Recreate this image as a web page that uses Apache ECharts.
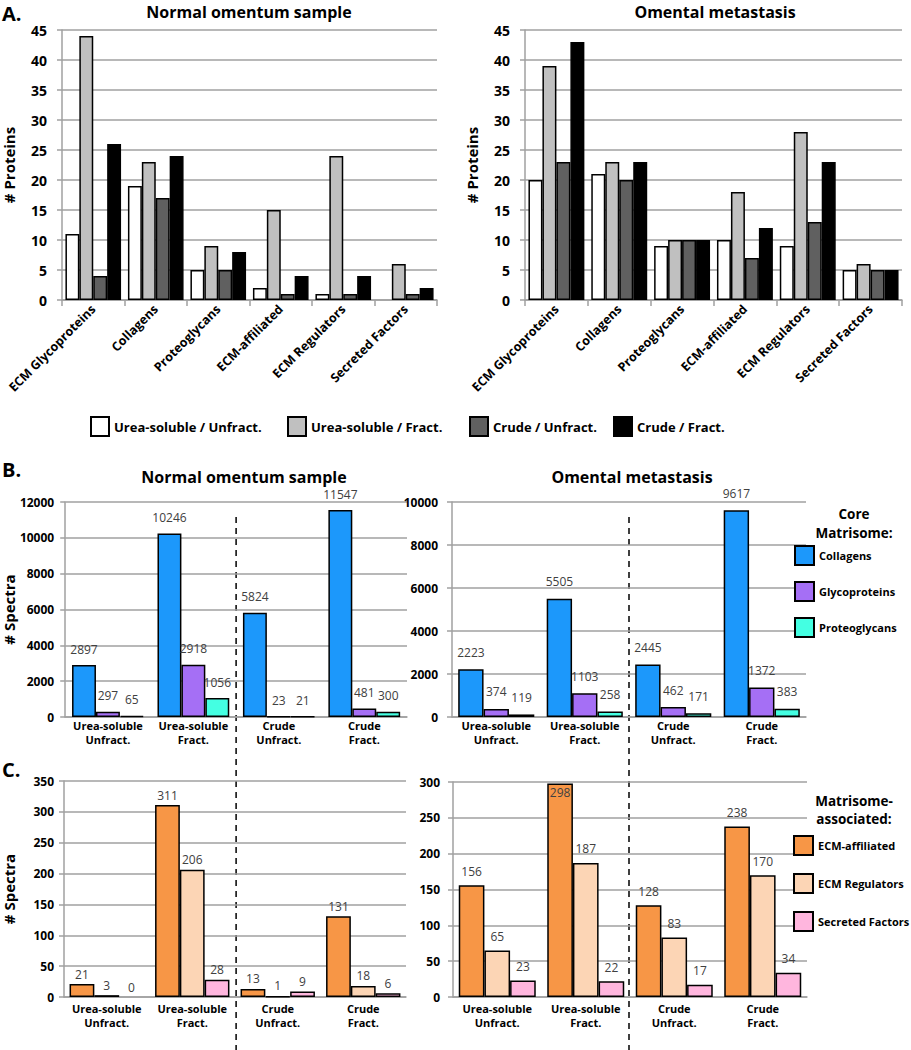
<!DOCTYPE html>
<html><head><meta charset="utf-8">
<script src="https://cdn.jsdelivr.net/npm/echarts@6/dist/echarts.min.js"></script>
<style>html,body{margin:0;padding:0;background:#fff}#c{width:911px;height:1050px}</style>
</head><body><div id="c"></div>
<script>
// ---------- DATA ----------
const categoriesA = ['ECM Glycoproteins', 'Collagens', 'Proteoglycans', 'ECM-affiliated', 'ECM Regulators', 'Secreted Factors'];
const seriesNamesA = ['Urea-soluble / Unfract.', 'Urea-soluble / Fract.', 'Crude / Unfract.', 'Crude / Fract.'];
// Panel A - Normal omentum sample (# proteins)
const normalUreaUnfract = [11, 19, 5, 2, 1, 0];
const normalUreaFract   = [44, 23, 9, 15, 24, 6];
const normalCrudeUnfract = [4, 17, 5, 1, 1, 1];
const normalCrudeFract  = [26, 24, 8, 4, 4, 2];
// Panel A - Omental metastasis (# proteins)
const metUreaUnfract = [20, 21, 9, 10, 9, 5];
const metUreaFract   = [39, 23, 10, 18, 28, 6];
const metCrudeUnfract = [23, 20, 10, 7, 13, 5];
const metCrudeFract  = [43, 23, 10, 12, 23, 5];

const categoriesBC = ['Urea-soluble\nUnfract.', 'Urea-soluble\nFract.', 'Crude\nUnfract.', 'Crude\nFract.'];
// Panel B - core matrisome (# spectra)
const normalCollagens = [2897, 10246, 5824, 11547];
const normalGlycoproteins = [297, 2918, 23, 481];
const normalProteoglycans = [65, 1056, 21, 300];
const metCollagens = [2223, 5505, 2445, 9617];
const metGlycoproteins = [374, 1103, 462, 1372];
const metProteoglycans = [119, 258, 171, 383];
// Panel C - matrisome-associated (# spectra)
const normalAffiliated = [21, 311, 13, 131];
const normalRegulators = [3, 206, 1, 18];
const normalSecreted = [0, 28, 9, 6];
const metAffiliated = [156, 298, 128, 238];
const metRegulators = [65, 187, 83, 170];
const metSecreted = [23, 22, 17, 34];

const ticksA = {min: 0, max: 45, interval: 5};
const ticksBLeft = {min: 0, max: 12000, interval: 2000};
const ticksBRight = {min: 0, max: 10000, interval: 2000};
const ticksCLeft = {min: 0, max: 350, interval: 50};
const ticksCRight = {min: 0, max: 300, interval: 50};

// ---------- STYLE ----------
const FONT = '"Open Sans", "Noto Sans", sans-serif';
const GRID_COLOR = '#a0a0a0';
const chart = echarts.init(document.getElementById('c'), null, {renderer: 'svg'});

const grids = [
  {left: 60, top: 30, width: 377, height: 270},
  {left: 525, top: 30, width: 377, height: 270},
  {left: 60, top: 502, width: 347, height: 215},
  {left: 452, top: 502, width: 354, height: 215},
  {left: 59, top: 781, width: 347, height: 216},
  {left: 453, top: 782, width: 354, height: 215}
];

function xAxisA(i) {
  return {
    type: 'category', gridIndex: i, data: categoriesA,
    axisLine: {lineStyle: {color: GRID_COLOR, width: 1.5}},
    axisTick: {show: true, length: 6, lineStyle: {color: GRID_COLOR, width: 1.5}},
    axisLabel: {rotate: 45, interval: 0, fontWeight: 'bold', fontSize: 12.5, color: '#000', margin: 7, fontFamily: FONT}
  };
}
function xAxisBC(i, margin) {
  return {
    type: 'category', gridIndex: i, data: categoriesBC,
    axisLine: {lineStyle: {color: GRID_COLOR, width: 1.5}},
    axisTick: {show: false},
    axisLabel: {interval: 0, fontWeight: 'bold', fontSize: 11, color: '#000', margin: margin, lineHeight: 14, fontFamily: FONT}
  };
}
function yAxis(i, ticks, fontSize, margin, name, nameGap) {
  return Object.assign({
    type: 'value', gridIndex: i,
    axisLine: {show: true, lineStyle: {color: GRID_COLOR, width: 1.5}},
    axisTick: {show: true, length: 5, lineStyle: {color: GRID_COLOR, width: 1.5}},
    splitLine: {lineStyle: {color: GRID_COLOR, width: 1.5}},
    axisLabel: {fontWeight: 'bold', fontSize: fontSize, color: '#000', margin: margin, fontFamily: FONT,
      formatter: v => String(v)},
    name: name || '', nameLocation: 'middle', nameRotate: 90, nameGap: nameGap || 0,
    nameTextStyle: {fontWeight: 'bold', fontSize: 15, color: '#000', fontFamily: FONT}
  }, ticks);
}

function bar(name, values, idx, color, gap, labelDist, special) {
  return {
    type: 'bar', name: name, xAxisIndex: idx, yAxisIndex: idx,
    data: values.map((v, k) => {
      const item = {value: v};
      if (v === 0) item.itemStyle = {borderWidth: 0};
      if (special && special.indexOf(k) >= 0) item.label = {position: 'insideTop', distance: 3};
      return item;
    }),
    itemStyle: {color: color, borderColor: '#000', borderWidth: 1.5},
    barGap: '0%', barCategoryGap: gap,
    label: labelDist == null ? {show: false} : {
      show: true, position: 'top', distance: labelDist, fontSize: 12, color: '#404040', fontFamily: FONT
    },
    emphasis: {disabled: true}
  };
}

const colorsA = ['#ffffff', '#c0c0c0', '#606060', '#000000'];
const colorsB = ['#1c98fb', '#a56ff5', '#44ffe2'];
const colorsC = ['#f79646', '#fcd5b5', '#ffb6de'];
const namesB = ['Collagens', 'Glycoproteins', 'Proteoglycans'];
const namesC = ['ECM-affiliated', 'ECM Regulators', 'Secreted Factors'];

const series = [];
[normalUreaUnfract, normalUreaFract, normalCrudeUnfract, normalCrudeFract].forEach((d, k) => series.push(bar(seriesNamesA[k], d, 0, colorsA[k], '11%')));
[metUreaUnfract, metUreaFract, metCrudeUnfract, metCrudeFract].forEach((d, k) => series.push(bar(seriesNamesA[k], d, 1, colorsA[k], '11%')));
[normalCollagens, normalGlycoproteins, normalProteoglycans].forEach((d, k) => series.push(bar(namesB[k], d, 2, colorsB[k], '16%', 10)));
[metCollagens, metGlycoproteins, metProteoglycans].forEach((d, k) => series.push(bar(namesB[k], d, 3, colorsB[k], '14%', 11)));
[normalAffiliated, normalRegulators, normalSecreted].forEach((d, k) => series.push(bar(namesC[k], d, 4, colorsC[k], '13%', 4)));
[metAffiliated, metRegulators, metSecreted].forEach((d, k) => series.push(bar(namesC[k], d, 5, colorsC[k], '13%', 8, k === 0 ? [1] : null)));

const legendText = {fontWeight: 'bold', fontSize: 13, color: '#000', fontFamily: FONT};
const legendALefts = [90, 287, 469, 613];
const legends = seriesNamesA.map((n, k) => ({
  data: [n], left: legendALefts[k], top: 416, itemWidth: 18, itemHeight: 19, padding: 0,
  textStyle: legendText, selectedMode: false, icon: 'rect'
}));
const sideLegendText = {fontWeight: 'bold', fontSize: 11, color: '#000', fontFamily: FONT};
legends.push({
  data: namesB, orient: 'vertical', left: 794, top: 545, itemWidth: 19, itemHeight: 19, itemGap: 15, padding: 0,
  textStyle: sideLegendText, selectedMode: false, icon: 'rect'
});
legends.push({
  data: namesC, orient: 'vertical', left: 793, top: 835, itemWidth: 19, itemHeight: 19, itemGap: 17, padding: 0,
  textStyle: sideLegendText, selectedMode: false, icon: 'rect'
});

function txt(text, x, y, size, align) {
  return {type: 'text', x: x, y: y, silent: true, style: {
    text: text, fill: '#000', font: 'bold ' + size + 'px ' + FONT,
    textAlign: align || 'center', textVerticalAlign: 'middle'
  }};
}
const texts = [
  txt('A.', 2, 13, 20, 'left'),
  txt('Normal omentum sample', 249, 12, 16),
  txt('Omental metastasis', 715, 12, 16),
  txt('B.', 2, 469, 20, 'left'),
  txt('Normal omentum sample', 244, 477, 16),
  txt('Omental metastasis', 632, 477, 16),
  txt('Core', 854, 514, 13.5),
  txt('Matrisome:', 854, 533, 13.5),
  txt('C.', 2, 769, 20, 'left'),
  txt('Matrisome-', 854, 801, 13.5),
  txt('associated:', 854, 819, 13.5)
];

chart.setOption({
  animation: false,
  grid: grids,
  xAxis: [xAxisA(0), xAxisA(1), xAxisBC(2, 1), xAxisBC(3, 1), xAxisBC(4, 4), xAxisBC(5, 4)],
  yAxis: [
    yAxis(0, ticksA, 14, 15, '# Proteins', 46),
    yAxis(1, ticksA, 14, 15, '# Proteins', 46),
    yAxis(2, ticksBLeft, 12, 11, '# Spectra', 48),
    yAxis(3, ticksBRight, 12, 14),
    yAxis(4, ticksCLeft, 12, 10, '# Spectra', 48),
    yAxis(5, ticksCRight, 12, 13)
  ],
  legend: legends,
  series: series,
  graphic: texts
});

// dashed separators between the Urea-soluble and Crude groups (B and C)
function sepX(idx) {
  const a = chart.convertToPixel({xAxisIndex: idx}, categoriesBC[1]);
  const b = chart.convertToPixel({xAxisIndex: idx}, categoriesBC[2]);
  return (a + b) / 2;
}
const xl = sepX(2), xr = sepX(3);
const dash = {stroke: '#000', lineWidth: 1.5, lineDash: [6, 5]};
chart.setOption({
  graphic: texts.concat([
    {type: 'line', silent: true, shape: {x1: xl, y1: 517, x2: xl, y2: 1050}, style: dash},
    {type: 'line', silent: true, shape: {x1: xr, y1: 517, x2: xr, y2: 1050}, style: dash}
  ])
});
</script>
</body></html>
